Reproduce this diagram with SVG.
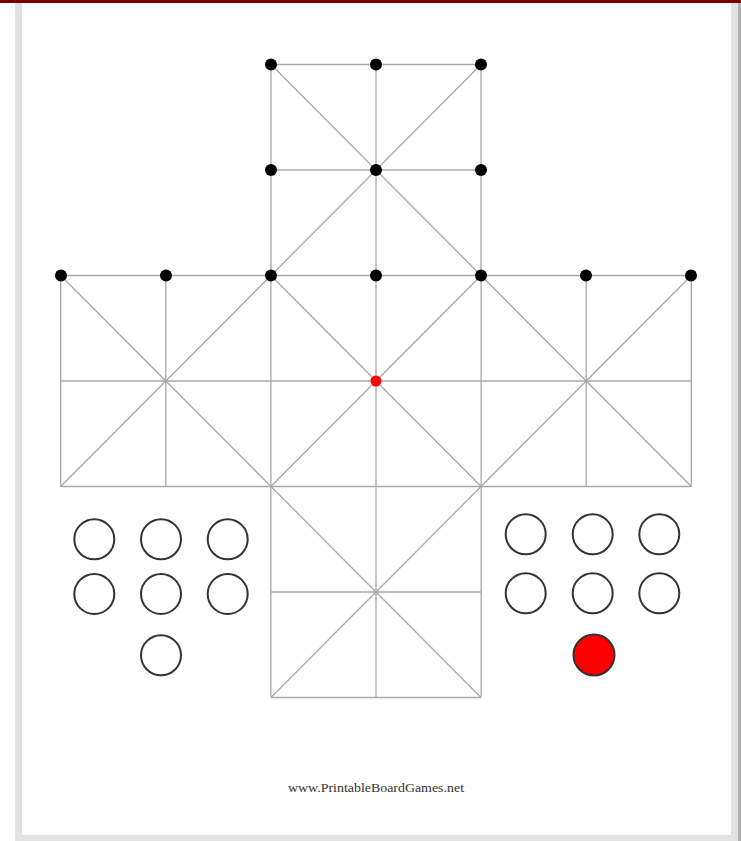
<svg xmlns="http://www.w3.org/2000/svg" width="741" height="841" viewBox="0 0 741 841">
<style>
.ln{stroke:#a8a8a8;stroke-width:1.3;fill:none}
.dot{fill:#000}
.pc{fill:#fff;stroke:#333;stroke-width:2}
.pcr{fill:#ff0000;stroke:#333;stroke-width:2}
.lbl{font-family:"Liberation Serif","Times New Roman",serif;font-size:13.5px;fill:#333}
</style>
<rect x="0" y="0" width="741" height="841" fill="#fff"/>
<g id="frame">
<rect x="15" y="0" width="7" height="841" fill="#e2e2e2"/>
<rect x="731" y="0" width="7" height="841" fill="#e2e2e2"/>
<rect x="738" y="0" width="3" height="841" fill="#b0b0b0"/>
<rect x="15" y="835" width="723" height="6" fill="#e2e2e2"/>
<rect x="0" y="0" width="741" height="3" fill="#7a0000"/>
</g>
<g id="connectors">
<!-- top arm -->
<path class="ln" d="M271 64.5H481M271 170H481M271 64.5V275.5M376 64.5V275.5M481 64.5V275.5M271 64.5L481 275.5M481 64.5L271 275.5"/>
<!-- middle band -->
<path class="ln" d="M60.7 275.5H691.3M60.7 381H691.3M60.7 486.5H691.3M60.7 275.5V486.5M165.8 275.5V486.5M270.9 275.5V486.5M376 275.5V486.5M481.1 275.5V486.5M586.2 275.5V486.5M691.3 275.5V486.5"/>
<path class="ln" d="M60.7 275.5L270.9 486.5M270.9 275.5L60.7 486.5M270.9 275.5L481.1 486.5M481.1 275.5L270.9 486.5M481.1 275.5L691.3 486.5M691.3 275.5L481.1 486.5"/>
<!-- bottom arm -->
<path class="ln" d="M270.9 592H481.1M270.9 697.5H481.1M270.9 486.5V697.5M376 486.5V697.5M481.1 486.5V697.5M270.9 486.5L481.1 697.5M481.1 486.5L270.9 697.5"/>
</g>
<g id="points">
<circle class="dot" cx="271" cy="64.5" r="6"/>
<circle class="dot" cx="376" cy="64.5" r="6"/>
<circle class="dot" cx="481" cy="64.5" r="6"/>
<circle class="dot" cx="271" cy="170" r="6"/>
<circle class="dot" cx="376" cy="170" r="6"/>
<circle class="dot" cx="481" cy="170" r="6"/>
<circle class="dot" cx="61" cy="275.5" r="6"/>
<circle class="dot" cx="166" cy="275.5" r="6"/>
<circle class="dot" cx="271" cy="275.5" r="6"/>
<circle class="dot" cx="376" cy="275.5" r="6"/>
<circle class="dot" cx="481" cy="275.5" r="6"/>
<circle class="dot" cx="586" cy="275.5" r="6"/>
<circle class="dot" cx="691" cy="275.5" r="6"/>
<circle id="center" cx="376" cy="381" r="5.5" fill="#ff0000"/>
</g>
<g id="left-pieces">
<circle class="pc" cx="94.3" cy="539.3" r="20"/>
<circle class="pc" cx="161" cy="539.3" r="20"/>
<circle class="pc" cx="227.7" cy="539.3" r="20"/>
<circle class="pc" cx="94.3" cy="594" r="20"/>
<circle class="pc" cx="161" cy="594" r="20"/>
<circle class="pc" cx="227.7" cy="594" r="20"/>
<circle class="pc" cx="161" cy="655.3" r="20"/>
</g>
<g id="right-pieces">
<circle class="pc" cx="525.7" cy="534.3" r="20"/>
<circle class="pc" cx="592.7" cy="534.3" r="20"/>
<circle class="pc" cx="659.3" cy="534.3" r="20"/>
<circle class="pc" cx="525.7" cy="593.3" r="20"/>
<circle class="pc" cx="592.7" cy="593.3" r="20"/>
<circle class="pc" cx="659.3" cy="593.3" r="20"/>
<circle class="pcr" cx="594" cy="655" r="20.5"/>
</g>
<g id="footer">
<text class="lbl" x="288" y="792" textLength="176" lengthAdjust="spacingAndGlyphs">www.PrintableBoardGames.net</text>
</g>
</svg>
